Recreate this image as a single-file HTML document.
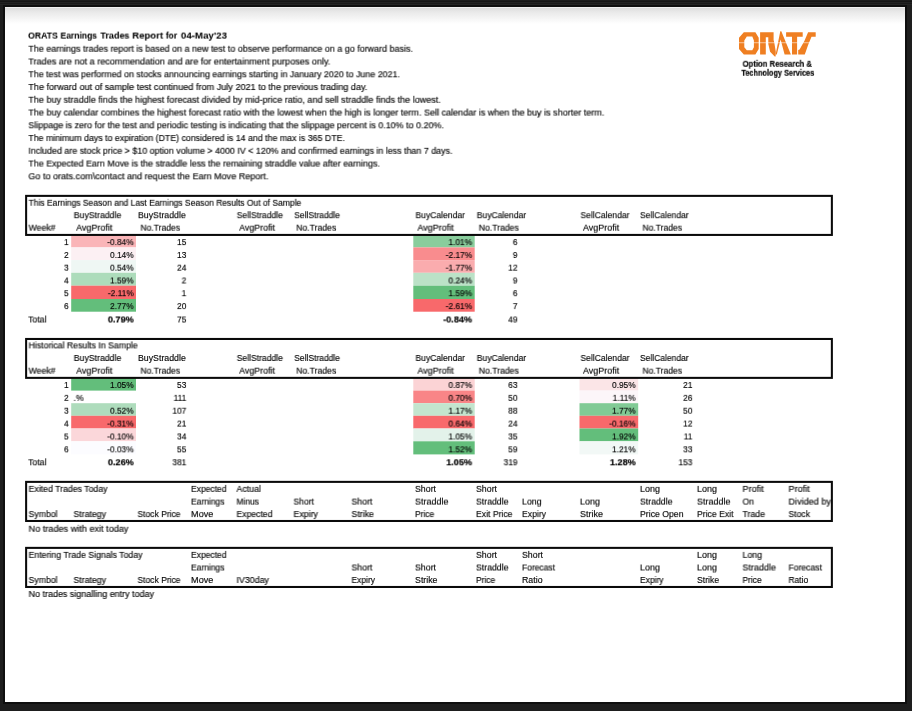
<!DOCTYPE html><html><head><meta charset="utf-8"><title>ORATS Earnings Trades Report</title><style>
html,body{margin:0;padding:0;}
body{width:912px;height:711px;background:#1e1e1e;position:relative;overflow:hidden;font-family:"Liberation Sans",sans-serif;}
#pg{position:absolute;left:5px;top:7px;width:900px;height:695px;background:linear-gradient(#f1f1f1 0px,#f1f1f1 0.6px,#dedede 1.3px,#e9e9e9 5px,#f3f3f3 10.5px,#fff 17px,#fff 100%);box-shadow:0 0 0 2px #0f0f0f;}
#gfx{position:absolute;left:0;top:0;}
#tb{position:absolute;left:0;top:0;width:912px;height:5px;background:linear-gradient(#1c1c1c 0,#1c1c1c 1.2px,#131313 1.6px,#222 2.1px,#222 2.7px,#121212 3.2px,#242424 3.9px,#242424 4.5px,#0f0f0f 5px);}
.t{position:absolute;white-space:pre;line-height:12px;height:12px;transform-origin:0 0;will-change:transform;-webkit-text-stroke:0.14px currentColor;}
.b{font-weight:bold;-webkit-text-stroke:0.04px currentColor;}
</style></head><body><div id="tb"></div><div id="pg"></div>
<svg id="gfx" width="912" height="711" viewBox="0 0 912 711">
<rect x="71.20" y="234.90" width="64.80" height="12.50" fill="#fab5b8"/>
<rect x="71.20" y="247.40" width="64.80" height="12.70" fill="#fcf0f3"/>
<rect x="71.20" y="260.10" width="64.80" height="12.70" fill="#eff7f4"/>
<rect x="71.20" y="272.80" width="64.80" height="12.90" fill="#addcbb"/>
<rect x="71.20" y="285.70" width="64.80" height="13.30" fill="#f8696b"/>
<rect x="71.20" y="299.00" width="64.80" height="12.70" fill="#63be7b"/>
<rect x="413.30" y="234.90" width="61.40" height="12.50" fill="#89cd9c"/>
<rect x="413.30" y="247.40" width="61.40" height="12.70" fill="#f98c8e"/>
<rect x="413.30" y="260.10" width="61.40" height="12.70" fill="#faacae"/>
<rect x="413.30" y="272.80" width="61.40" height="12.90" fill="#bbe2c7"/>
<rect x="413.30" y="285.70" width="61.40" height="13.30" fill="#63be7b"/>
<rect x="413.30" y="299.00" width="61.40" height="12.70" fill="#f8696b"/>
<rect x="71.20" y="377.80" width="64.80" height="12.80" fill="#63be7b"/>
<rect x="71.20" y="403.20" width="64.80" height="12.60" fill="#aedcbc"/>
<rect x="71.20" y="415.80" width="64.80" height="12.70" fill="#f8696b"/>
<rect x="71.20" y="428.50" width="64.80" height="12.80" fill="#fbd7da"/>
<rect x="71.20" y="441.30" width="64.80" height="13.10" fill="#fcfcff"/>
<rect x="413.30" y="377.80" width="61.40" height="12.80" fill="#fbd3d5"/>
<rect x="413.30" y="390.60" width="61.40" height="12.60" fill="#f98587"/>
<rect x="413.30" y="403.20" width="61.40" height="12.60" fill="#c3e5ce"/>
<rect x="413.30" y="415.80" width="61.40" height="12.70" fill="#f8696b"/>
<rect x="413.30" y="428.50" width="61.40" height="12.80" fill="#e3f2ea"/>
<rect x="413.30" y="441.30" width="61.40" height="13.10" fill="#63be7b"/>
<rect x="579.50" y="377.80" width="58.70" height="12.80" fill="#fbe5e7"/>
<rect x="579.50" y="390.60" width="58.70" height="12.60" fill="#fcf6f9"/>
<rect x="579.50" y="403.20" width="58.70" height="12.60" fill="#81ca95"/>
<rect x="579.50" y="415.80" width="58.70" height="12.70" fill="#f8696b"/>
<rect x="579.50" y="428.50" width="58.70" height="12.80" fill="#63be7b"/>
<rect x="579.50" y="441.30" width="58.70" height="13.10" fill="#f2f8f6"/>
<rect x="26.12" y="195.88" width="805.75" height="39.05" fill="none" stroke="#0a0a0a" stroke-width="2.05"/>
<rect x="26.12" y="338.97" width="805.75" height="38.90" fill="none" stroke="#0a0a0a" stroke-width="2.05"/>
<rect x="26.12" y="481.88" width="805.75" height="39.10" fill="none" stroke="#0a0a0a" stroke-width="2.05"/>
<rect x="26.12" y="547.88" width="805.75" height="39.10" fill="none" stroke="#0a0a0a" stroke-width="2.05"/>
<g fill="#ef7f22">
<path fill-rule="evenodd" d="M743.8 32.25H755.4L758.7 37.8V48.9L755.4 54.6H743.8L739 48.9V37.8ZM746.8 36.6L744.3 40.6V47.2L746.8 50.2H752.3L753.9 47.2V40.6L752.3 36.6Z"/>
<path d="M760.1 32.25H773.6V40L774.3 42.8L775.8 51.7L775.6 56.4H774.7L770.1 51.7L768.3 44V37.2H765.8V54.6H760.1Z"/>
<path d="M780.3 31.3H781.3L790.9 54.5H784.6L780.6 39.5L776.8 54.5H775.6Z"/>
<path d="M786.1 32.25H802.7V36.65H797.1V54.5H792V36.65H786.1Z"/>
<path d="M808.1 32.25H815.7V36.65H811.5L808.1 44.9L804.8 54.5H798.2V50L799.6 49.6L804.5 40.7Z"/>
</g>
<rect x="739" y="42.3" width="73" height="0.9" fill="#fff" fill-opacity="0.62"/>

</svg>
<div class="t b" style="font-size:9.3px;color:#000;left:28px;top:29px;transform:matrix(0.9307,0.0001,0,1,0.10,0.60);">ORATS</div>
<div class="t b" style="font-size:9.3px;color:#000;left:60px;top:29px;transform:matrix(0.9175,0.0001,0,1,0.50,0.60);">Earnings</div>
<div class="t b" style="font-size:9.3px;color:#000;left:100px;top:29px;transform:matrix(0.9672,0.0001,0,1,0.40,0.60);">Trades</div>
<div class="t b" style="font-size:9.3px;color:#000;left:132px;top:29px;transform:matrix(1.0277,0.0001,0,1,0.30,0.60);">Report</div>
<div class="t b" style="font-size:9.3px;color:#000;left:165px;top:29px;transform:matrix(0.9189,0.0001,0,1,0.80,0.60);">for</div>
<div class="t b" style="font-size:9.3px;color:#000;left:180px;top:29px;transform:matrix(1.0459,0.0001,0,1,0.90,0.60);">04-May'23</div>
<div class="t" style="font-size:8.7px;color:#000;left:28px;top:42px;transform:matrix(1.0303,0.0001,0,1,0.40,0.75);">The earnings trades report is based on a new test to observe performance on a go forward basis.</div>
<div class="t" style="font-size:8.7px;color:#000;left:28px;top:55px;transform:matrix(1.0461,0.0001,0,1,0.40,0.50);">Trades are not a recommendation and are for entertainment purposes only.</div>
<div class="t" style="font-size:8.7px;color:#000;left:28px;top:68px;transform:matrix(1.0218,0.0001,0,1,0.40,0.26);">The test was performed on stocks announcing earnings starting in January 2020 to June 2021.</div>
<div class="t" style="font-size:8.7px;color:#000;left:28px;top:81px;transform:matrix(1.0486,0.0001,0,1,0.40,0.02);">The forward out of sample test continued from July 2021 to the previous trading day.</div>
<div class="t" style="font-size:8.7px;color:#000;left:28px;top:93px;transform:matrix(1.0432,0.0001,0,1,0.40,0.77);">The buy straddle finds the highest forecast divided by mid-price ratio, and sell straddle finds the lowest.</div>
<div class="t" style="font-size:8.7px;color:#000;left:28px;top:106px;transform:matrix(1.0410,0.0001,0,1,0.40,0.53);">The buy calendar combines the highest forecast ratio with the lowest when the high is longer term. Sell calendar is when the buy is shorter term.</div>
<div class="t" style="font-size:8.7px;color:#000;left:28px;top:119px;transform:matrix(1.0306,0.0001,0,1,0.40,0.28);">Slippage is zero for the test and periodic testing is indicating that the slippage percent is 0.10% to 0.20%.</div>
<div class="t" style="font-size:8.7px;color:#000;left:28px;top:132px;transform:matrix(1.0134,0.0001,0,1,0.40,0.04);">The minimum days to expiration (DTE) considered is 14 and the max is 365 DTE.</div>
<div class="t" style="font-size:8.7px;color:#000;left:28px;top:144px;transform:matrix(1.0229,0.0001,0,1,0.40,0.79);">Included are stock price &gt; $10 option volume &gt; 4000 IV &lt; 120% and confirmed earnings in less than 7 days.</div>
<div class="t" style="font-size:8.7px;color:#000;left:28px;top:157px;transform:matrix(1.0284,0.0001,0,1,0.40,0.55);">The Expected Earn Move is the straddle less the remaining straddle value after earnings.</div>
<div class="t" style="font-size:8.7px;color:#000;left:28px;top:170px;transform:matrix(1.0424,0.0001,0,1,0.40,0.30);">Go to orats.com\contact and request the Earn Move Report.</div>
<div class="t" style="font-size:8.7px;color:#000;left:28px;top:196px;transform:matrix(0.9785,0.0001,0,1,0.60,0.80);">This Earnings Season and Last Earnings Season Results Out of Sample</div>
<div class="t" style="font-size:8.7px;color:#000;left:73px;top:209px;transform:matrix(1.0036,0.0001,0,1,0.75,0.20);">BuyStraddle</div>
<div class="t" style="font-size:8.7px;color:#000;left:138px;top:209px;transform:matrix(1.0089,0.0001,0,1,0.00,0.20);">BuyStraddle</div>
<div class="t" style="font-size:8.7px;color:#000;left:236px;top:209px;transform:matrix(0.9870,0.0001,0,1,0.75,0.20);">SellStraddle</div>
<div class="t" style="font-size:8.7px;color:#000;left:294px;top:209px;transform:matrix(0.9763,0.0001,0,1,0.25,0.20);">SellStraddle</div>
<div class="t" style="font-size:8.7px;color:#000;left:415px;top:209px;transform:matrix(0.9854,0.0001,0,1,0.50,0.20);">BuyCalendar</div>
<div class="t" style="font-size:8.7px;color:#000;left:476px;top:209px;transform:matrix(0.9854,0.0001,0,1,0.75,0.20);">BuyCalendar</div>
<div class="t" style="font-size:8.7px;color:#000;left:580px;top:209px;transform:matrix(0.9849,0.0001,0,1,0.50,0.20);">SellCalendar</div>
<div class="t" style="font-size:8.7px;color:#000;left:640px;top:209px;transform:matrix(0.9799,0.0001,0,1,0.00,0.20);">SellCalendar</div>
<div class="t" style="font-size:8.7px;color:#000;left:28px;top:221px;transform:matrix(1.0003,0.0001,0,1,0.60,0.70);">Week#</div>
<div class="t" style="font-size:8.7px;color:#000;left:76px;top:221px;transform:matrix(1.0329,0.0001,0,1,0.25,0.70);">AvgProfit</div>
<div class="t" style="font-size:8.7px;color:#000;left:140px;top:221px;transform:matrix(0.9817,0.0001,0,1,0.50,0.70);">No.Trades</div>
<div class="t" style="font-size:8.7px;color:#000;left:239px;top:221px;transform:matrix(1.0187,0.0001,0,1,0.25,0.70);">AvgProfit</div>
<div class="t" style="font-size:8.7px;color:#000;left:296px;top:221px;transform:matrix(0.9942,0.0001,0,1,0.25,0.70);">No.Trades</div>
<div class="t" style="font-size:8.7px;color:#000;left:417px;top:221px;transform:matrix(1.0329,0.0001,0,1,0.50,0.70);">AvgProfit</div>
<div class="t" style="font-size:8.7px;color:#000;left:478px;top:221px;transform:matrix(0.9942,0.0001,0,1,0.75,0.70);">No.Trades</div>
<div class="t" style="font-size:8.7px;color:#000;left:583px;top:221px;transform:matrix(1.0329,0.0001,0,1,0.00,0.70);">AvgProfit</div>
<div class="t" style="font-size:8.7px;color:#000;left:642px;top:221px;transform:matrix(0.9817,0.0001,0,1,0.50,0.70);">No.Trades</div>
<div class="t" style="font-size:8.3px;color:#000;left:64px;top:236px;transform:matrix(1.0043,0.0001,0,1,0.05,0.10);">1</div>
<div class="t" style="font-size:8.3px;color:#000;left:107px;top:236px;transform:matrix(1.0043,0.0001,0,1,0.29,0.10);">-0.84%</div>
<div class="t" style="font-size:8.3px;color:#000;left:177px;top:236px;transform:matrix(1.0043,0.0001,0,1,0.03,0.10);">15</div>
<div class="t" style="font-size:8.3px;color:#000;left:448px;top:236px;transform:matrix(1.0043,0.0001,0,1,0.47,0.10);">1.01%</div>
<div class="t" style="font-size:8.3px;color:#000;left:512px;top:236px;transform:matrix(1.0043,0.0001,0,1,0.85,0.10);">6</div>
<div class="t" style="font-size:8.3px;color:#000;left:64px;top:249px;transform:matrix(1.0043,0.0001,0,1,0.05,0.00);">2</div>
<div class="t" style="font-size:8.3px;color:#000;left:110px;top:249px;transform:matrix(1.0043,0.0001,0,1,0.07,0.00);">0.14%</div>
<div class="t" style="font-size:8.3px;color:#000;left:177px;top:249px;transform:matrix(1.0043,0.0001,0,1,0.03,0.00);">13</div>
<div class="t" style="font-size:8.3px;color:#000;left:445px;top:249px;transform:matrix(1.0043,0.0001,0,1,0.69,0.00);">-2.17%</div>
<div class="t" style="font-size:8.3px;color:#000;left:512px;top:249px;transform:matrix(1.0043,0.0001,0,1,0.85,0.00);">9</div>
<div class="t" style="font-size:8.3px;color:#000;left:64px;top:261px;transform:matrix(1.0043,0.0001,0,1,0.05,0.70);">3</div>
<div class="t" style="font-size:8.3px;color:#000;left:110px;top:261px;transform:matrix(1.0043,0.0001,0,1,0.07,0.70);">0.54%</div>
<div class="t" style="font-size:8.3px;color:#000;left:177px;top:261px;transform:matrix(1.0043,0.0001,0,1,0.03,0.70);">24</div>
<div class="t" style="font-size:8.3px;color:#000;left:445px;top:261px;transform:matrix(1.0043,0.0001,0,1,0.69,0.70);">-1.77%</div>
<div class="t" style="font-size:8.3px;color:#000;left:508px;top:261px;transform:matrix(1.0043,0.0001,0,1,0.23,0.70);">12</div>
<div class="t" style="font-size:8.3px;color:#000;left:64px;top:274px;transform:matrix(1.0043,0.0001,0,1,0.05,0.50);">4</div>
<div class="t" style="font-size:8.3px;color:#000;left:110px;top:274px;transform:matrix(1.0043,0.0001,0,1,0.07,0.50);">1.59%</div>
<div class="t" style="font-size:8.3px;color:#000;left:181px;top:274px;transform:matrix(1.0043,0.0001,0,1,0.65,0.50);">2</div>
<div class="t" style="font-size:8.3px;color:#000;left:448px;top:274px;transform:matrix(1.0043,0.0001,0,1,0.47,0.50);">0.24%</div>
<div class="t" style="font-size:8.3px;color:#000;left:512px;top:274px;transform:matrix(1.0043,0.0001,0,1,0.85,0.50);">9</div>
<div class="t" style="font-size:8.3px;color:#000;left:64px;top:287px;transform:matrix(1.0043,0.0001,0,1,0.05,0.20);">5</div>
<div class="t" style="font-size:8.3px;color:#000;left:107px;top:287px;transform:matrix(1.0043,0.0001,0,1,0.90,0.20);">-2.11%</div>
<div class="t" style="font-size:8.3px;color:#000;left:181px;top:287px;transform:matrix(1.0043,0.0001,0,1,0.65,0.20);">1</div>
<div class="t" style="font-size:8.3px;color:#000;left:448px;top:287px;transform:matrix(1.0043,0.0001,0,1,0.47,0.20);">1.59%</div>
<div class="t" style="font-size:8.3px;color:#000;left:512px;top:287px;transform:matrix(1.0043,0.0001,0,1,0.85,0.20);">6</div>
<div class="t" style="font-size:8.3px;color:#000;left:64px;top:300px;transform:matrix(1.0043,0.0001,0,1,0.05,0.10);">6</div>
<div class="t" style="font-size:8.3px;color:#000;left:110px;top:300px;transform:matrix(1.0043,0.0001,0,1,0.07,0.10);">2.77%</div>
<div class="t" style="font-size:8.3px;color:#000;left:177px;top:300px;transform:matrix(1.0043,0.0001,0,1,0.03,0.10);">20</div>
<div class="t" style="font-size:8.3px;color:#000;left:445px;top:300px;transform:matrix(1.0043,0.0001,0,1,0.69,0.10);">-2.61%</div>
<div class="t" style="font-size:8.3px;color:#000;left:512px;top:300px;transform:matrix(1.0043,0.0001,0,1,0.85,0.10);">7</div>
<div class="t" style="font-size:8.7px;color:#000;left:28px;top:313px;transform:matrix(1.0022,0.0001,0,1,0.20,0.50);">Total</div>
<div class="t b" style="font-size:9.1px;color:#000;-webkit-text-stroke:0.2px currentColor;left:107px;top:313px;transform:matrix(1.0043,0.0001,0,1,0.89,0.50);">0.79%</div>
<div class="t" style="font-size:8.3px;color:#000;left:177px;top:313px;transform:matrix(1.0043,0.0001,0,1,0.03,0.50);">75</div>
<div class="t b" style="font-size:9.1px;color:#000;-webkit-text-stroke:0.2px currentColor;left:443px;top:313px;transform:matrix(1.0043,0.0001,0,1,0.25,0.50);">-0.84%</div>
<div class="t" style="font-size:8.3px;color:#000;left:508px;top:313px;transform:matrix(1.0043,0.0001,0,1,0.23,0.50);">49</div>
<div class="t" style="font-size:8.7px;color:#000;left:28px;top:339px;transform:matrix(1.0043,0.0001,0,1,0.60,0.40);">Historical Results In Sample</div>
<div class="t" style="font-size:8.7px;color:#000;left:73px;top:352px;transform:matrix(1.0036,0.0001,0,1,0.75,0.00);">BuyStraddle</div>
<div class="t" style="font-size:8.7px;color:#000;left:138px;top:352px;transform:matrix(1.0089,0.0001,0,1,0.00,0.00);">BuyStraddle</div>
<div class="t" style="font-size:8.7px;color:#000;left:236px;top:352px;transform:matrix(0.9870,0.0001,0,1,0.75,0.00);">SellStraddle</div>
<div class="t" style="font-size:8.7px;color:#000;left:294px;top:352px;transform:matrix(0.9763,0.0001,0,1,0.25,0.00);">SellStraddle</div>
<div class="t" style="font-size:8.7px;color:#000;left:415px;top:352px;transform:matrix(0.9854,0.0001,0,1,0.50,0.00);">BuyCalendar</div>
<div class="t" style="font-size:8.7px;color:#000;left:476px;top:352px;transform:matrix(0.9854,0.0001,0,1,0.75,0.00);">BuyCalendar</div>
<div class="t" style="font-size:8.7px;color:#000;left:580px;top:352px;transform:matrix(0.9849,0.0001,0,1,0.50,0.00);">SellCalendar</div>
<div class="t" style="font-size:8.7px;color:#000;left:640px;top:352px;transform:matrix(0.9799,0.0001,0,1,0.00,0.00);">SellCalendar</div>
<div class="t" style="font-size:8.7px;color:#000;left:28px;top:364px;transform:matrix(1.0003,0.0001,0,1,0.60,0.70);">Week#</div>
<div class="t" style="font-size:8.7px;color:#000;left:76px;top:364px;transform:matrix(1.0329,0.0001,0,1,0.25,0.70);">AvgProfit</div>
<div class="t" style="font-size:8.7px;color:#000;left:140px;top:364px;transform:matrix(0.9817,0.0001,0,1,0.50,0.70);">No.Trades</div>
<div class="t" style="font-size:8.7px;color:#000;left:239px;top:364px;transform:matrix(1.0187,0.0001,0,1,0.25,0.70);">AvgProfit</div>
<div class="t" style="font-size:8.7px;color:#000;left:296px;top:364px;transform:matrix(0.9942,0.0001,0,1,0.25,0.70);">No.Trades</div>
<div class="t" style="font-size:8.7px;color:#000;left:417px;top:364px;transform:matrix(1.0329,0.0001,0,1,0.50,0.70);">AvgProfit</div>
<div class="t" style="font-size:8.7px;color:#000;left:478px;top:364px;transform:matrix(0.9942,0.0001,0,1,0.75,0.70);">No.Trades</div>
<div class="t" style="font-size:8.7px;color:#000;left:583px;top:364px;transform:matrix(1.0329,0.0001,0,1,0.00,0.70);">AvgProfit</div>
<div class="t" style="font-size:8.7px;color:#000;left:642px;top:364px;transform:matrix(0.9817,0.0001,0,1,0.50,0.70);">No.Trades</div>
<div class="t" style="font-size:8.3px;color:#000;left:64px;top:379px;transform:matrix(1.0043,0.0001,0,1,0.05,0.00);">1</div>
<div class="t" style="font-size:8.3px;color:#000;left:110px;top:379px;transform:matrix(1.0043,0.0001,0,1,0.07,0.00);">1.05%</div>
<div class="t" style="font-size:8.3px;color:#000;left:177px;top:379px;transform:matrix(1.0043,0.0001,0,1,0.03,0.00);">53</div>
<div class="t" style="font-size:8.3px;color:#000;left:448px;top:379px;transform:matrix(1.0043,0.0001,0,1,0.47,0.00);">0.87%</div>
<div class="t" style="font-size:8.3px;color:#000;left:508px;top:379px;transform:matrix(1.0043,0.0001,0,1,0.23,0.00);">63</div>
<div class="t" style="font-size:8.3px;color:#000;left:612px;top:379px;transform:matrix(1.0043,0.0001,0,1,0.07,0.00);">0.95%</div>
<div class="t" style="font-size:8.3px;color:#000;left:683px;top:379px;transform:matrix(1.0043,0.0001,0,1,0.13,0.00);">21</div>
<div class="t" style="font-size:8.3px;color:#000;left:64px;top:391px;transform:matrix(1.0043,0.0001,0,1,0.05,0.87);">2</div>
<div class="t" style="font-size:8.7px;color:#000;left:73px;top:391px;transform:matrix(1.0043,0.0001,0,1,0.50,0.87);">.%</div>
<div class="t" style="font-size:8.3px;color:#000;left:173px;top:391px;transform:matrix(1.0043,0.0001,0,1,0.62,0.87);">111</div>
<div class="t" style="font-size:8.3px;color:#000;left:448px;top:391px;transform:matrix(1.0043,0.0001,0,1,0.47,0.87);">0.70%</div>
<div class="t" style="font-size:8.3px;color:#000;left:508px;top:391px;transform:matrix(1.0043,0.0001,0,1,0.23,0.87);">50</div>
<div class="t" style="font-size:8.3px;color:#000;left:612px;top:391px;transform:matrix(1.0043,0.0001,0,1,0.68,0.87);">1.11%</div>
<div class="t" style="font-size:8.3px;color:#000;left:683px;top:391px;transform:matrix(1.0043,0.0001,0,1,0.13,0.87);">26</div>
<div class="t" style="font-size:8.3px;color:#000;left:64px;top:404px;transform:matrix(1.0043,0.0001,0,1,0.05,0.74);">3</div>
<div class="t" style="font-size:8.3px;color:#000;left:110px;top:404px;transform:matrix(1.0043,0.0001,0,1,0.07,0.74);">0.52%</div>
<div class="t" style="font-size:8.3px;color:#000;left:172px;top:404px;transform:matrix(1.0043,0.0001,0,1,0.40,0.74);">107</div>
<div class="t" style="font-size:8.3px;color:#000;left:448px;top:404px;transform:matrix(1.0043,0.0001,0,1,0.47,0.74);">1.17%</div>
<div class="t" style="font-size:8.3px;color:#000;left:508px;top:404px;transform:matrix(1.0043,0.0001,0,1,0.23,0.74);">88</div>
<div class="t" style="font-size:8.3px;color:#000;left:612px;top:404px;transform:matrix(1.0043,0.0001,0,1,0.07,0.74);">1.77%</div>
<div class="t" style="font-size:8.3px;color:#000;left:683px;top:404px;transform:matrix(1.0043,0.0001,0,1,0.13,0.74);">50</div>
<div class="t" style="font-size:8.3px;color:#000;left:64px;top:417px;transform:matrix(1.0043,0.0001,0,1,0.05,0.61);">4</div>
<div class="t" style="font-size:8.3px;color:#000;left:107px;top:417px;transform:matrix(1.0043,0.0001,0,1,0.29,0.61);">-0.31%</div>
<div class="t" style="font-size:8.3px;color:#000;left:177px;top:417px;transform:matrix(1.0043,0.0001,0,1,0.03,0.61);">21</div>
<div class="t" style="font-size:8.3px;color:#000;left:448px;top:417px;transform:matrix(1.0043,0.0001,0,1,0.47,0.61);">0.64%</div>
<div class="t" style="font-size:8.3px;color:#000;left:508px;top:417px;transform:matrix(1.0043,0.0001,0,1,0.23,0.61);">24</div>
<div class="t" style="font-size:8.3px;color:#000;left:609px;top:417px;transform:matrix(1.0043,0.0001,0,1,0.29,0.61);">-0.16%</div>
<div class="t" style="font-size:8.3px;color:#000;left:683px;top:417px;transform:matrix(1.0043,0.0001,0,1,0.13,0.61);">12</div>
<div class="t" style="font-size:8.3px;color:#000;left:64px;top:430px;transform:matrix(1.0043,0.0001,0,1,0.05,0.48);">5</div>
<div class="t" style="font-size:8.3px;color:#000;left:107px;top:430px;transform:matrix(1.0043,0.0001,0,1,0.29,0.48);">-0.10%</div>
<div class="t" style="font-size:8.3px;color:#000;left:177px;top:430px;transform:matrix(1.0043,0.0001,0,1,0.03,0.48);">34</div>
<div class="t" style="font-size:8.3px;color:#000;left:448px;top:430px;transform:matrix(1.0043,0.0001,0,1,0.47,0.48);">1.05%</div>
<div class="t" style="font-size:8.3px;color:#000;left:508px;top:430px;transform:matrix(1.0043,0.0001,0,1,0.23,0.48);">35</div>
<div class="t" style="font-size:8.3px;color:#000;left:612px;top:430px;transform:matrix(1.0043,0.0001,0,1,0.07,0.48);">1.92%</div>
<div class="t" style="font-size:8.3px;color:#000;left:683px;top:430px;transform:matrix(1.0043,0.0001,0,1,0.74,0.48);">11</div>
<div class="t" style="font-size:8.3px;color:#000;left:64px;top:443px;transform:matrix(1.0043,0.0001,0,1,0.05,0.35);">6</div>
<div class="t" style="font-size:8.3px;color:#000;left:107px;top:443px;transform:matrix(1.0043,0.0001,0,1,0.29,0.35);">-0.03%</div>
<div class="t" style="font-size:8.3px;color:#000;left:177px;top:443px;transform:matrix(1.0043,0.0001,0,1,0.03,0.35);">55</div>
<div class="t" style="font-size:8.3px;color:#000;left:448px;top:443px;transform:matrix(1.0043,0.0001,0,1,0.47,0.35);">1.52%</div>
<div class="t" style="font-size:8.3px;color:#000;left:508px;top:443px;transform:matrix(1.0043,0.0001,0,1,0.23,0.35);">59</div>
<div class="t" style="font-size:8.3px;color:#000;left:612px;top:443px;transform:matrix(1.0043,0.0001,0,1,0.07,0.35);">1.21%</div>
<div class="t" style="font-size:8.3px;color:#000;left:683px;top:443px;transform:matrix(1.0043,0.0001,0,1,0.13,0.35);">33</div>
<div class="t" style="font-size:8.7px;color:#000;left:28px;top:456px;transform:matrix(1.0022,0.0001,0,1,0.20,0.30);">Total</div>
<div class="t b" style="font-size:9.1px;color:#000;-webkit-text-stroke:0.2px currentColor;left:107px;top:456px;transform:matrix(1.0043,0.0001,0,1,0.89,0.30);">0.26%</div>
<div class="t" style="font-size:8.3px;color:#000;left:172px;top:456px;transform:matrix(1.0043,0.0001,0,1,0.40,0.30);">381</div>
<div class="t b" style="font-size:9.1px;color:#000;-webkit-text-stroke:0.2px currentColor;left:446px;top:456px;transform:matrix(1.0043,0.0001,0,1,0.29,0.30);">1.05%</div>
<div class="t" style="font-size:8.3px;color:#000;left:503px;top:456px;transform:matrix(1.0043,0.0001,0,1,0.60,0.30);">319</div>
<div class="t b" style="font-size:9.1px;color:#000;-webkit-text-stroke:0.2px currentColor;left:609px;top:456px;transform:matrix(1.0043,0.0001,0,1,0.89,0.30);">1.28%</div>
<div class="t" style="font-size:8.3px;color:#000;left:678px;top:456px;transform:matrix(1.0043,0.0001,0,1,0.50,0.30);">153</div>
<div class="t" style="font-size:8.7px;color:#000;left:28px;top:482px;transform:matrix(1.0043,0.0001,0,1,0.60,0.90);">Exited Trades Today</div>
<div class="t" style="font-size:8.7px;color:#000;left:191px;top:482px;transform:matrix(0.9797,0.0001,0,1,0.00,0.90);">Expected</div>
<div class="t" style="font-size:8.7px;color:#000;left:236px;top:482px;transform:matrix(1.0142,0.0001,0,1,0.50,0.90);">Actual</div>
<div class="t" style="font-size:8.7px;color:#000;left:415px;top:482px;transform:matrix(1.0113,0.0001,0,1,0.00,0.90);">Short</div>
<div class="t" style="font-size:8.7px;color:#000;left:476px;top:482px;transform:matrix(1.0113,0.0001,0,1,0.00,0.90);">Short</div>
<div class="t" style="font-size:8.7px;color:#000;left:640px;top:482px;transform:matrix(1.0348,0.0001,0,1,0.00,0.90);">Long</div>
<div class="t" style="font-size:8.7px;color:#000;left:697px;top:482px;transform:matrix(1.0348,0.0001,0,1,0.00,0.90);">Long</div>
<div class="t" style="font-size:8.7px;color:#000;left:742px;top:482px;transform:matrix(1.0500,0.0001,0,1,0.50,0.90);">Profit</div>
<div class="t" style="font-size:8.7px;color:#000;left:788px;top:482px;transform:matrix(1.0500,0.0001,0,1,0.50,0.90);">Profit</div>
<div class="t" style="font-size:8.7px;color:#000;left:191px;top:495px;transform:matrix(0.9768,0.0001,0,1,0.00,0.60);">Earnings</div>
<div class="t" style="font-size:8.7px;color:#000;left:236px;top:495px;transform:matrix(0.9700,0.0001,0,1,0.50,0.60);">Minus</div>
<div class="t" style="font-size:8.7px;color:#000;left:293px;top:495px;transform:matrix(0.9872,0.0001,0,1,0.50,0.60);">Short</div>
<div class="t" style="font-size:8.7px;color:#000;left:351px;top:495px;transform:matrix(1.0113,0.0001,0,1,0.50,0.60);">Short</div>
<div class="t" style="font-size:8.7px;color:#000;left:415px;top:495px;transform:matrix(1.0352,0.0001,0,1,0.00,0.60);">Straddle</div>
<div class="t" style="font-size:8.7px;color:#000;left:476px;top:495px;transform:matrix(1.0043,0.0001,0,1,0.00,0.60);">Straddle</div>
<div class="t" style="font-size:8.7px;color:#000;left:522px;top:495px;transform:matrix(1.0089,0.0001,0,1,0.00,0.60);">Long</div>
<div class="t" style="font-size:8.7px;color:#000;left:580px;top:495px;transform:matrix(1.0348,0.0001,0,1,0.00,0.60);">Long</div>
<div class="t" style="font-size:8.7px;color:#000;left:640px;top:495px;transform:matrix(1.0043,0.0001,0,1,0.00,0.60);">Straddle</div>
<div class="t" style="font-size:8.7px;color:#000;left:697px;top:495px;transform:matrix(1.0352,0.0001,0,1,0.00,0.60);">Straddle</div>
<div class="t" style="font-size:8.7px;color:#000;left:742px;top:495px;transform:matrix(0.9919,0.0001,0,1,0.50,0.60);">On</div>
<div class="t" style="font-size:8.7px;color:#000;left:788px;top:495px;transform:matrix(1.0478,0.0001,0,1,0.50,0.60);">Divided by</div>
<div class="t" style="font-size:8.7px;color:#000;left:28px;top:508px;transform:matrix(0.9976,0.0001,0,1,0.60,0.10);">Symbol</div>
<div class="t" style="font-size:8.7px;color:#000;left:73px;top:508px;transform:matrix(1.0043,0.0001,0,1,0.50,0.10);">Strategy</div>
<div class="t" style="font-size:8.7px;color:#000;left:137px;top:508px;transform:matrix(0.9787,0.0001,0,1,0.50,0.10);">Stock Price</div>
<div class="t" style="font-size:8.7px;color:#000;left:191px;top:508px;transform:matrix(1.0500,0.0001,0,1,0.00,0.10);">Move</div>
<div class="t" style="font-size:8.7px;color:#000;left:236px;top:508px;transform:matrix(0.9935,0.0001,0,1,0.50,0.10);">Expected</div>
<div class="t" style="font-size:8.7px;color:#000;left:293px;top:508px;transform:matrix(1.0149,0.0001,0,1,0.50,0.10);">Expiry</div>
<div class="t" style="font-size:8.7px;color:#000;left:351px;top:508px;transform:matrix(1.0127,0.0001,0,1,0.50,0.10);">Strike</div>
<div class="t" style="font-size:8.7px;color:#000;left:415px;top:508px;transform:matrix(0.9700,0.0001,0,1,0.00,0.10);">Price</div>
<div class="t" style="font-size:8.7px;color:#000;left:476px;top:508px;transform:matrix(0.9945,0.0001,0,1,0.00,0.10);">Exit Price</div>
<div class="t" style="font-size:8.7px;color:#000;left:522px;top:508px;transform:matrix(0.9942,0.0001,0,1,0.00,0.10);">Expiry</div>
<div class="t" style="font-size:8.7px;color:#000;left:580px;top:508px;transform:matrix(1.0352,0.0001,0,1,0.00,0.10);">Strike</div>
<div class="t" style="font-size:8.7px;color:#000;left:640px;top:508px;transform:matrix(1.0007,0.0001,0,1,0.00,0.10);">Price Open</div>
<div class="t" style="font-size:8.7px;color:#000;left:697px;top:508px;transform:matrix(0.9945,0.0001,0,1,0.00,0.10);">Price Exit</div>
<div class="t" style="font-size:8.7px;color:#000;left:742px;top:508px;transform:matrix(1.0056,0.0001,0,1,0.50,0.10);">Trade</div>
<div class="t" style="font-size:8.7px;color:#000;left:788px;top:508px;transform:matrix(0.9892,0.0001,0,1,0.50,0.10);">Stock</div>
<div class="t" style="font-size:8.7px;color:#000;left:28px;top:522px;transform:matrix(1.0500,0.0001,0,1,0.60,0.80);">No trades with exit today</div>
<div class="t" style="font-size:8.7px;color:#000;left:28px;top:548px;transform:matrix(1.0049,0.0001,0,1,0.60,0.90);">Entering Trade Signals Today</div>
<div class="t" style="font-size:8.7px;color:#000;left:191px;top:548px;transform:matrix(0.9797,0.0001,0,1,0.00,0.90);">Expected</div>
<div class="t" style="font-size:8.7px;color:#000;left:476px;top:548px;transform:matrix(1.0113,0.0001,0,1,0.00,0.90);">Short</div>
<div class="t" style="font-size:8.7px;color:#000;left:522px;top:548px;transform:matrix(1.0113,0.0001,0,1,0.00,0.90);">Short</div>
<div class="t" style="font-size:8.7px;color:#000;left:697px;top:548px;transform:matrix(1.0348,0.0001,0,1,0.00,0.90);">Long</div>
<div class="t" style="font-size:8.7px;color:#000;left:742px;top:548px;transform:matrix(1.0089,0.0001,0,1,0.50,0.90);">Long</div>
<div class="t" style="font-size:8.7px;color:#000;left:191px;top:561px;transform:matrix(0.9768,0.0001,0,1,0.00,0.50);">Earnings</div>
<div class="t" style="font-size:8.7px;color:#000;left:351px;top:561px;transform:matrix(1.0113,0.0001,0,1,0.50,0.50);">Short</div>
<div class="t" style="font-size:8.7px;color:#000;left:415px;top:561px;transform:matrix(1.0113,0.0001,0,1,0.00,0.50);">Short</div>
<div class="t" style="font-size:8.7px;color:#000;left:476px;top:561px;transform:matrix(1.0043,0.0001,0,1,0.00,0.50);">Straddle</div>
<div class="t" style="font-size:8.7px;color:#000;left:522px;top:561px;transform:matrix(0.9764,0.0001,0,1,0.00,0.50);">Forecast</div>
<div class="t" style="font-size:8.7px;color:#000;left:640px;top:561px;transform:matrix(1.0348,0.0001,0,1,0.00,0.50);">Long</div>
<div class="t" style="font-size:8.7px;color:#000;left:697px;top:561px;transform:matrix(1.0348,0.0001,0,1,0.00,0.50);">Long</div>
<div class="t" style="font-size:8.7px;color:#000;left:742px;top:561px;transform:matrix(1.0352,0.0001,0,1,0.50,0.50);">Straddle</div>
<div class="t" style="font-size:8.7px;color:#000;left:788px;top:561px;transform:matrix(0.9912,0.0001,0,1,0.50,0.50);">Forecast</div>
<div class="t" style="font-size:8.7px;color:#000;left:28px;top:574px;transform:matrix(0.9976,0.0001,0,1,0.60,0.00);">Symbol</div>
<div class="t" style="font-size:8.7px;color:#000;left:73px;top:574px;transform:matrix(1.0043,0.0001,0,1,0.50,0.00);">Strategy</div>
<div class="t" style="font-size:8.7px;color:#000;left:137px;top:574px;transform:matrix(0.9787,0.0001,0,1,0.50,0.00);">Stock Price</div>
<div class="t" style="font-size:8.7px;color:#000;left:191px;top:574px;transform:matrix(1.0500,0.0001,0,1,0.00,0.00);">Move</div>
<div class="t" style="font-size:8.7px;color:#000;left:236px;top:574px;transform:matrix(1.0191,0.0001,0,1,0.50,0.00);">IV30day</div>
<div class="t" style="font-size:8.7px;color:#000;left:351px;top:574px;transform:matrix(0.9735,0.0001,0,1,0.50,0.00);">Expiry</div>
<div class="t" style="font-size:8.7px;color:#000;left:415px;top:574px;transform:matrix(1.0127,0.0001,0,1,0.00,0.00);">Strike</div>
<div class="t" style="font-size:8.7px;color:#000;left:476px;top:574px;transform:matrix(0.9700,0.0001,0,1,0.00,0.00);">Price</div>
<div class="t" style="font-size:8.7px;color:#000;left:522px;top:574px;transform:matrix(1.0108,0.0001,0,1,0.00,0.00);">Ratio</div>
<div class="t" style="font-size:8.7px;color:#000;left:640px;top:574px;transform:matrix(0.9735,0.0001,0,1,0.00,0.00);">Expiry</div>
<div class="t" style="font-size:8.7px;color:#000;left:697px;top:574px;transform:matrix(0.9902,0.0001,0,1,0.00,0.00);">Strike</div>
<div class="t" style="font-size:8.7px;color:#000;left:742px;top:574px;transform:matrix(0.9700,0.0001,0,1,0.50,0.00);">Price</div>
<div class="t" style="font-size:8.7px;color:#000;left:788px;top:574px;transform:matrix(0.9700,0.0001,0,1,0.50,0.00);">Ratio</div>
<div class="t" style="font-size:8.7px;color:#000;left:28px;top:588px;transform:matrix(1.0304,0.0001,0,1,0.60,0.00);">No trades signalling entry today</div>
<div class="t b" style="font-size:8.8px;color:#0c0c0c;-webkit-text-stroke:0.22px currentColor;left:742px;top:57px;transform:matrix(0.8762,0.0001,0,1,0.60,0.80);">Option Research &amp;</div>
<div class="t b" style="font-size:8.8px;color:#0c0c0c;-webkit-text-stroke:0.22px currentColor;left:741px;top:66px;transform:matrix(0.8333,0.0001,0,1,0.40,0.80);">Technology Services</div>
</body></html>
